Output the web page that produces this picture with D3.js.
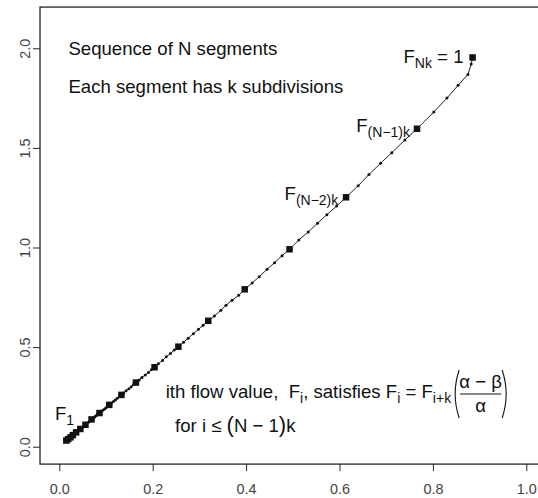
<!DOCTYPE html>
<html>
<head>
<meta charset="utf-8">
<script src="https://cdnjs.cloudflare.com/ajax/libs/d3/7.8.5/d3.min.js"></script>
<style>
body { margin:0; background:#fff; }
text { font-family:"Liberation Sans", Arial, sans-serif; }
</style>
</head>
<body>
<div id="container"></div>
<script>
// flow values, from F_1 (bottom left) up to F_Nk (top right); every k-th point ends a segment
var flowX = [0.015,0.016,0.017,0.017,0.018,0.018,
	0.019,0.020,0.021,0.022,0.022,0.023,
	0.024,0.025,0.025,0.026,0.027,0.028,
	0.029,0.030,0.031,0.033,0.034,0.035,
	0.036,0.038,0.039,0.041,0.042,0.044,
	0.045,0.047,0.049,0.051,0.052,0.054,
	0.056,0.058,0.060,0.063,0.065,0.067,
	0.069,0.072,0.075,0.077,0.080,0.083,
	0.086,0.090,0.093,0.097,0.100,0.104,
	0.107,0.111,0.116,0.120,0.124,0.129,
	0.133,0.138,0.143,0.149,0.154,0.159,
	0.164,0.171,0.177,0.184,0.191,0.197,
	0.204,0.212,0.221,0.229,0.238,0.246,
	0.255,0.266,0.276,0.287,0.298,0.308,
	0.319,0.332,0.346,0.357,0.370,0.384,
	0.397,0.413,0.428,0.445,0.461,0.477,
	0.493,0.513,0.533,0.553,0.573,0.594,
	0.614,0.640,0.663,0.688,0.712,0.740,
	0.766,0.802,0.830,0.854,0.875,0.882,
	0.885];
var flowY = [0.031,0.032,0.033,0.035,0.036,0.037,
	0.038,0.040,0.041,0.043,0.044,0.046,
	0.047,0.049,0.051,0.053,0.055,0.056,
	0.058,0.060,0.063,0.065,0.067,0.070,
	0.072,0.075,0.078,0.081,0.083,0.086,
	0.089,0.093,0.096,0.100,0.103,0.107,
	0.110,0.115,0.119,0.124,0.128,0.133,
	0.137,0.142,0.148,0.153,0.158,0.164,
	0.169,0.176,0.183,0.189,0.196,0.203,
	0.210,0.218,0.227,0.235,0.243,0.252,
	0.260,0.270,0.281,0.291,0.301,0.312,
	0.322,0.335,0.348,0.360,0.373,0.386,
	0.399,0.416,0.433,0.451,0.468,0.485,
	0.502,0.524,0.545,0.567,0.589,0.610,
	0.632,0.656,0.685,0.710,0.735,0.760,
	0.790,0.822,0.853,0.891,0.924,0.959,
	0.991,1.038,1.078,1.122,1.165,1.208,
	1.252,1.310,1.366,1.423,1.476,1.540,
	1.596,1.680,1.750,1.814,1.869,1.921,
	1.954];
var k = 6;

var xTicks = [0.0,0.2,0.4,0.6,0.8,1.0];
var yTicks = [0.0,0.5,1.0,1.5,2.0];

var noteLines = ["Sequence of N segments","Each segment has k subdivisions"];
var noteX = [0.0195,0.0195];
var noteY = [1.966,1.776];

var svg = d3.select("#container").append("svg")
			.attr("width",538)
			.attr("height",498);

var x = d3.scaleLinear().domain([0,1]).range([59.3,526.3]);
var y = d3.scaleLinear().domain([0,2]).range([446.7,48.3]);

// plot box (right side runs off the picture)
svg.append("rect")
	.attr("x",x(-0.0413))
	.attr("y",y(2.207))
	.attr("width",x(1.04)-x(-0.0413))
	.attr("height",y(-0.0873)-y(2.207))
	.attr("fill","none")
	.attr("stroke","#111")
	.attr("stroke-width",1.2);

var xAxis = svg.append("g")
	.attr("transform","translate(0,"+y(-0.0873)+")")
	.call(d3.axisBottom(x).tickValues(xTicks).tickFormat(d3.format(".1f")).tickSize(7).tickPadding(13));
xAxis.select(".domain").remove();
xAxis.selectAll("text").style("font-size","14.4px").attr("fill","#444")
	.style("font-family","'Liberation Sans', Arial, sans-serif");
xAxis.selectAll("line").attr("stroke","#222");

var yAxis = svg.append("g")
	.attr("transform","translate("+x(-0.0413)+",0)")
	.call(d3.axisLeft(y).tickValues(yTicks).tickFormat(d3.format(".1f")).tickSize(7));
yAxis.select(".domain").remove();
yAxis.selectAll("line").attr("stroke","#222");
yAxis.selectAll("text")
	.attr("x",0).attr("y",0).attr("dy",0)
	.attr("text-anchor","middle")
	.attr("transform","translate(-10,0) rotate(-90)")
	.attr("fill","#444")
	.style("font-size","14.4px")
	.style("font-family","'Liberation Sans', Arial, sans-serif");

var idx = d3.range(flowX.length);

var line = d3.line()
	.x(function(i){ return x(flowX[i]); })
	.y(function(i){ return y(flowY[i]); });

svg.append("path")
	.datum(idx)
	.attr("d",line)
	.attr("fill","none")
	.attr("stroke","#222")
	.attr("stroke-width",1);

svg.selectAll("circle.sub")
	.data(idx.filter(function(i){ return i%k!=0; }))
	.enter().append("circle")
	.attr("class","sub")
	.attr("cx",function(i){ return x(flowX[i]); })
	.attr("cy",function(i){ return y(flowY[i]); })
	.attr("r",1.5)
	.attr("fill","#111");

var sq = 6.5;
svg.selectAll("rect.seg")
	.data(idx.filter(function(i){ return i%k==0; }))
	.enter().append("rect")
	.attr("class","seg")
	.attr("x",function(i){ return x(flowX[i])-sq/2; })
	.attr("y",function(i){ return y(flowY[i])-sq/2; })
	.attr("width",sq)
	.attr("height",sq)
	.attr("fill","#111");

// notes
svg.selectAll("text.note")
	.data(noteLines)
	.enter().append("text")
	.attr("class","note")
	.attr("x",function(d,i){ return x(noteX[i]); })
	.attr("y",function(d,i){ return y(noteY[i]); })
	.style("font-size","18.6px")
	.attr("fill","#111")
	.text(function(d){ return d; });

// text with subscripts: parts = [[string, isSub], ...]
function subText(px,py,anchor,parts) {
	var t = svg.append("text")
		.attr("x",px).attr("y",py)
		.attr("text-anchor",anchor)
		.style("font-size","18.6px")
		.style("white-space","pre")
		.attr("fill","#111");
	var low = false;
	parts.forEach(function(p) {
		var s = t.append("tspan").text(p[0]);
		if(p[1] && !low) { s.attr("dy",5); low = true; }
		else if(!p[1] && low) { s.attr("dy",-5); low = false; }
		if(p[1]) s.style("font-size","14px");
	});
	return t;
}

subText(x(0.8655),y(1.926),"end",[["F",0],["Nk",1],[" = 1",0]]);
subText(x(0.751),y(1.581),"end",[["F",0],["(N\u22121)k",1]]);
subText(x(0.5974),y(1.238),"end",[["F",0],["(N\u22122)k",1]]);
subText(x(-0.0092),y(0.1365),"start",[["F",0],["1",1]]);

var rule = subText(x(0.2278),y(0.2445),"start",
	[["ith flow value,  F",0],["i",1],[", satisfies F",0],["i",1],[" = F",0],["i+k",1]]);

var bb = rule.node().getBBox();
var fx = bb.x+bb.width;
var fy = y(0.2445);

svg.append("path")
	.attr("d","M"+(fx+7)+","+(fy-28)+" Q"+(fx-1)+","+(fy-4)+" "+(fx+7)+","+(fy+20))
	.attr("fill","none").attr("stroke","#111").attr("stroke-width",1.1);
svg.append("path")
	.attr("d","M"+(fx+50)+","+(fy-28)+" Q"+(fx+58)+","+(fy-4)+" "+(fx+50)+","+(fy+20))
	.attr("fill","none").attr("stroke","#111").attr("stroke-width",1.1);
svg.append("line")
	.attr("x1",fx+8).attr("x2",fx+49)
	.attr("y1",fy-4).attr("y2",fy-4)
	.attr("stroke","#111").attr("stroke-width",1);
svg.append("text")
	.attr("x",fx+28.5).attr("y",fy-10)
	.attr("text-anchor","middle")
	.style("font-size","18.6px")
	.attr("fill","#111")
	.text("\u03b1 \u2212 \u03b2");
svg.append("text")
	.attr("x",fx+28.5).attr("y",fy+14)
	.attr("text-anchor","middle")
	.style("font-size","18.6px")
	.attr("fill","#111")
	.text("\u03b1");

var cond = svg.append("text")
	.attr("x",x(0.2478)).attr("y",y(0.0723))
	.style("font-size","18.6px")
	.style("white-space","pre")
	.attr("fill","#111");
cond.append("tspan").text("for i \u2264 ");
cond.append("tspan").text("(").style("font-size","22px");
cond.append("tspan").text("N \u2212 1");
cond.append("tspan").text(")").style("font-size","22px");
cond.append("tspan").text("k");
</script>
</body>
</html>
